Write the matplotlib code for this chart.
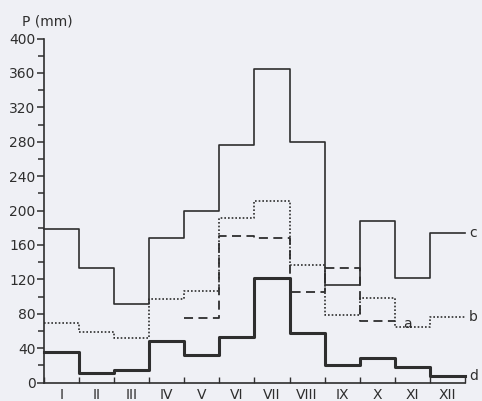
import matplotlib
matplotlib.use("Agg")
import matplotlib.pyplot as plt
import numpy as np

months = ['I', 'II', 'III', 'IV', 'V', 'VI', 'VII', 'VIII', 'IX', 'X', 'XI', 'XII']
series_c = [178, 133, 91, 168, 199, 276, 365, 280, 113, 188, 122, 174]
series_d = [36, 11, 14, 48, 32, 53, 122, 58, 20, 29, 18, 7]
series_b = [69, 59, 52, 97, 106, 191, 211, 137, 79, 98, 64, 76]
series_a = [np.nan, np.nan, np.nan, np.nan, 75, 170, 168, 105, 133, 72, np.nan, np.nan]
yticks = [0, 40, 80, 120, 160, 200, 240, 280, 320, 360, 400]

bg = '#eff0f5'
ink = '#2e2e2e'

fig = plt.figure(figsize=(4.82, 4.01), dpi=100, facecolor=bg)
ax = fig.add_axes([44/482, 18.5/401, 421/482, 344/401], facecolor=bg)

def steps(vals):
    v = list(vals) + [vals[-1]]
    x = np.arange(len(v))
    return x, v

x, v = steps(series_c)
ax.step(x, v, where='post', color=ink, lw=1.2, clip_on=False)
x, v = steps(series_d)
ax.step(x, v, where='post', color=ink, lw=2.2, clip_on=False)
x, v = steps(series_b)
ax.step(x, v, where='post', color=ink, lw=1.2, linestyle=(0, (1, 1.2)), clip_on=False)

a = series_a
idx = [i for i, val in enumerate(a) if not np.isnan(val)]
xs = list(range(idx[0], idx[-1] + 2))
vs = [a[i] for i in idx] + [a[idx[-1]]]
ax.step(xs, vs, where='post', color=ink, lw=1.3, linestyle=(0, (5, 3)), clip_on=False)

ax.set_xlim(0, 12)
ax.set_ylim(0, 400)

for s in ['top', 'right']:
    ax.spines[s].set_visible(False)
ax.spines['left'].set_color(ink)
ax.spines['bottom'].set_color(ink)
ax.spines['left'].set_linewidth(1.2)
ax.spines['bottom'].set_linewidth(1.2)

ax.set_yticks(yticks)
ax.set_yticks(np.arange(20, 400, 40), minor=True)
ax.tick_params(axis='y', which='major', direction='out', length=5, width=1.1, color=ink,
               labelsize=10, labelcolor=ink, pad=1)
ax.tick_params(axis='y', which='minor', direction='out', length=4, width=1.1, color=ink)

ax.set_xticks(np.arange(0, 13))
ax.set_xticklabels([])
ax.set_xticks(np.arange(0.5, 12, 1), minor=True)
ax.set_xticklabels(months, minor=True)
ax.tick_params(axis='x', which='major', direction='in', length=4, width=1.0, color=ink)
ax.tick_params(axis='x', which='minor', length=0, labelsize=10, labelcolor=ink, pad=4)

ax.text(-0.62, 412, 'P (mm)', fontsize=10, color=ink, ha='left', va='bottom', clip_on=False)

ax.text(12.12, series_c[-1], 'c', fontsize=10, color=ink, ha='left', va='center', clip_on=False)
ax.text(12.12, series_b[-1], 'b', fontsize=10, color=ink, ha='left', va='center', clip_on=False)
ax.text(12.12, series_d[-1], 'd', fontsize=10, color=ink, ha='left', va='center', clip_on=False)
ax.text(10.35, 68, 'a', fontsize=10, color=ink, ha='center', va='center', clip_on=False)

fig.savefig('out.png', dpi=100, facecolor=bg)
